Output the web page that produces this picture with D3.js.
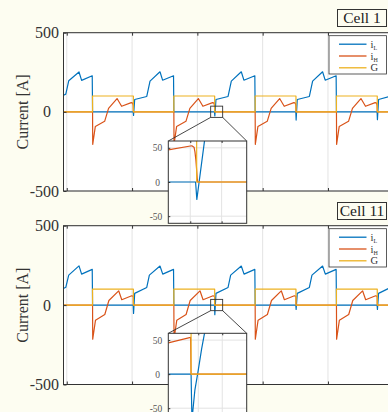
<!DOCTYPE html>
<html><head><meta charset="utf-8">
<script src="https://cdn.jsdelivr.net/npm/d3@7"></script>
<style>
html,body{margin:0;padding:0;background:#fdfdf1;overflow:hidden;}
svg{display:block;}
text{font-family:"Liberation Serif","Times New Roman",serif;}
</style></head><body>
<svg id="c" width="388" height="412"></svg>
<script>
// ---------- data (time in µs, current in A) ----------
const xDomain=[-2,198];
const xTicks=[0,40,80,120,160];
const yDomain=[-500,500];
const yTicks=[-500,0,500];
const seriesNames=["i_L","i_H","G"];
const panelLabels=["Cell 1","Cell 11"];
const yLabel="Current [A]";

// Cell 1
const iL_cell1=[[-2,105],[-0.6,112],[1.2,196],[7.5,252],[9.1,199],[15.6,228],[15.8,0],
 [40.7,0],[40.9,-22],[41.6,78],[49.0,97],[51.0,194],[57.1,253],[58.7,200],[65.4,228],[65.6,0],
 [90.5,0],[90.7,-26],[91.4,78],[98.8,97],[100.8,194],[106.9,253],[108.5,200],[115.2,228],[115.4,0],
 [140.3,0],[140.5,-52],[141.2,78],[148.6,97],[150.6,194],[156.7,253],[158.3,200],[165.0,228],[165.2,0],
 [190.1,0],[190.3,-50],[191.0,78],[198.4,99]];
const iH_cell1=[[-2,0],[15.8,0],[15.9,-205],[17.5,-92],[23.2,-60],[25.6,22],[30.8,84],[33.6,35],[39.5,58],[40.4,55],[40.7,40],[40.8,0],
 [65.6,0],[65.7,-205],[67.3,-92],[73.0,-60],[75.4,22],[80.6,84],[83.4,35],[89.3,58],[90.2,55],[90.5,40],[90.6,0],
 [115.4,0],[115.5,-205],[117.1,-92],[122.8,-60],[125.2,22],[130.4,84],[133.2,35],[139.1,58],[140.0,55],[140.3,40],[140.4,0],
 [165.2,0],[165.3,-205],[166.9,-92],[172.6,-60],[175.0,22],[180.2,84],[183.0,35],[188.9,58],[189.8,55],[190.1,40],[190.2,0],[198,0]];
const G_cell1=[[-2,0],[15.8,0],[15.8,100],[40.8,100],[40.8,0],[65.6,0],[65.6,100],[90.6,100],[90.6,0],
 [115.4,0],[115.4,100],[140.4,100],[140.4,0],[165.2,0],[165.2,100],[190.2,100],[190.2,0],[198,0]];

// Cell 11
const iL_cell11=[[-2,105],[-0.6,112],[1.2,189],[7.5,247],[9.1,195],[15.6,225],[15.8,0],
 [40.7,0],[40.9,-52],[41.6,74],[49.0,111],[50.6,189],[57.1,246],[58.8,195],[65.4,225],[65.6,0],
 [90.5,0],[90.7,-60],[91.4,74],[98.8,111],[100.4,189],[106.9,246],[108.6,195],[115.2,225],[115.4,0],
 [140.3,0],[140.5,-27],[141.2,74],[148.6,111],[150.2,189],[156.7,246],[158.4,195],[165.0,225],[165.2,0],
 [190.1,0],[190.3,-27],[191.0,74],[198.4,111]];
const iH_cell11=[[-2,0],[15.8,0],[15.9,-215],[17.6,-95],[23.3,-59],[25.8,29],[31.8,90],[33.7,34],[39.8,59],[40.75,55],[40.8,0],
 [65.6,0],[65.7,-215],[67.4,-95],[73.1,-59],[75.6,29],[81.6,90],[83.5,34],[89.6,59],[90.55,54],[90.6,0],
 [115.4,0],[115.5,-215],[117.2,-95],[122.9,-59],[125.4,29],[131.4,90],[133.3,34],[139.4,59],[140.35,55],[140.4,0],
 [165.2,0],[165.3,-215],[167.0,-95],[172.7,-59],[175.2,29],[181.2,90],[183.1,34],[189.2,59],[190.15,55],[190.2,0],[198,0]];
const G_cell11=[[-2,0],[15.8,0],[15.8,100],[40.8,100],[40.8,0],[65.6,0],[65.6,100],[90.6,100],[90.6,0],
 [115.4,0],[115.4,100],[140.4,100],[140.4,0],[165.2,0],[165.2,100],[190.2,100],[190.2,0],[198,0]];

// zoomed region marked in the main axes
const zoomT=[88.15,95.5];
const zoomV=[-35,36];
// insets
const insetYDomain=[-60,60];
const insetYTicks=[-50,0,50];
const inset1Domain=[89.7,92.2], inset1Ticks=[90.4,91.4];
const inset2Domain=[89.65,92.92], inset2Ticks=[90.9,91.9];
const ins1_iL=[[89.7,0],[90.57,0],[90.61,-25.5],[90.86,62],[91.3,78]];
const ins1_iH=[[89.7,47],[90.45,53],[90.52,51],[90.55,44],[90.58,32],[90.60,20],[90.62,7],[90.635,0],[92.2,0]];
const ins1_G=[[89.7,100],[90.605,100],[90.605,0],[92.2,0]];
const ins2_iL=[[89.65,0],[90.6,0],[90.64,-75],[90.67,-55],[90.76,-23],[90.9,6],[91.04,37],[91.15,58],[91.3,78]];
const ins2_iH=[[89.65,46],[90.58,54],[90.6,0],[92.92,0]];
const ins2_G=[[89.65,100],[90.6,100],[90.6,0],[92.92,0]];

// ---------- drawing ----------
const colors=["#0072BD","#D95319","#EDB120"];
const axisColor="#333";
const gridColor="#e3e3e3";
const svg=d3.select("#c");
const defs=svg.append("defs");
const X0=63.5, X1=390;
const x=d3.scaleLinear().domain(xDomain).range([X0,X1]);

const panels=[
 {top:32.7,bot:191,data:[iL_cell1,iH_cell1,G_cell1],label:panelLabels[0],
  inset:{domain:inset1Domain,ticks:inset1Ticks,data:[ins1_iL,ins1_iH,ins1_G],yTop:141,yBot:223,boxBot:223.3}},
 {top:225.7,bot:384.5,data:[iL_cell11,iH_cell11,G_cell11],label:panelLabels[1],
  inset:{domain:inset2Domain,ticks:inset2Ticks,data:[ins2_iL,ins2_iH,ins2_G],yTop:333.3,yBot:415,boxBot:416}}
];

panels.forEach((p,i)=>{
  const y=d3.scaleLinear().domain(yDomain).range([p.bot,p.top]);
  p.y=y;
  const g=svg.append("g");
  g.append("rect").attr("x",X0).attr("y",p.top).attr("width",X1-X0).attr("height",p.bot-p.top).attr("fill","#fff");
  g.selectAll(null).data(xTicks).join("line")
    .attr("x1",d=>x(d)).attr("x2",d=>x(d)).attr("y1",p.top).attr("y2",p.bot)
    .attr("stroke",gridColor).attr("stroke-width",1);
  g.selectAll(null).data(yTicks).join("line")
    .attr("x1",X0).attr("x2",X1).attr("y1",d=>y(d)).attr("y2",d=>y(d))
    .attr("stroke",gridColor).attr("stroke-width",1);
  const cid="clipm"+i;
  defs.append("clipPath").attr("id",cid).append("rect")
    .attr("x",X0).attr("y",p.top).attr("width",X1-X0).attr("height",p.bot-p.top);
  const lg=g.append("g").attr("clip-path",`url(#${cid})`);
  const line=d3.line().x(d=>x(d[0])).y(d=>y(d[1]));
  p.data.forEach((d,k)=>{
    lg.append("path").datum(d).attr("d",line).attr("fill","none")
      .attr("stroke",colors[k]).attr("stroke-width",1.2).attr("stroke-linejoin","round");
  });
  // border
  g.append("rect").attr("x",X0).attr("y",p.top).attr("width",X1-X0).attr("height",p.bot-p.top)
    .attr("fill","none").attr("stroke",axisColor).attr("stroke-width",1);
  // ticks
  const ab=g.append("g").attr("transform",`translate(0,${p.bot})`)
    .call(d3.axisBottom(x).tickValues(xTicks).tickSize(-3).tickFormat(""));
  const at=g.append("g").attr("transform",`translate(0,${p.top})`)
    .call(d3.axisTop(x).tickValues(xTicks).tickSize(-3).tickFormat(""));
  const al=g.append("g").attr("transform",`translate(${X0},0)`)
    .call(d3.axisLeft(y).tickValues(yTicks).tickSize(-3).tickPadding(4.5).tickFormat(d=>String(d)));
  [ab,at,al].forEach(a=>{a.select(".domain").remove();a.selectAll(".tick line").attr("stroke",axisColor);});
  al.selectAll(".tick text").attr("font-size",16).attr("fill",axisColor)
    .attr("font-family","'Liberation Serif','Times New Roman',serif");
  let wPos=0;
  al.selectAll(".tick text").each(function(d){ if(d===yTicks[yTicks.length-1]) wPos=this.getComputedTextLength(); });
  al.selectAll(".tick text").filter(d=>d===0).attr("text-anchor","middle").attr("x",-(4.5+wPos/2));
  // y label
  g.append("text").attr("transform",`translate(28,${(p.top+p.bot)/2}) rotate(-90)`)
    .attr("text-anchor","middle").attr("font-size",16).attr("fill",axisColor).text(yLabel);
  // legend
  const lgx=329, lgy=p.top+3;
  const leg=g.append("g");
  leg.append("rect").attr("x",lgx).attr("y",lgy).attr("width",57.5).attr("height",38.3)
    .attr("fill","#fff").attr("stroke",axisColor).attr("stroke-width",0.8);
  seriesNames.forEach((n,k)=>{
    const yy=lgy+8.5+k*11.8;
    leg.append("line").attr("x1",lgx+10).attr("x2",lgx+37.5).attr("y1",yy).attr("y2",yy)
      .attr("stroke",colors[k]).attr("stroke-width",1.3);
    const t=leg.append("text").attr("x",lgx+41.5).attr("y",yy+3.5).attr("font-size",10.5).attr("fill",axisColor);
    const parts=n.split("_");
    t.append("tspan").text(parts[0]);
    if(parts[1]) t.append("tspan").attr("font-size",6).attr("dy",2).text(parts[1]);
  });
  // cell label
  const cy=p.top-23.2;
  g.append("rect").attr("x",337.5).attr("y",cy).attr("width",49).attr("height",17)
    .attr("fill","none").attr("stroke",axisColor).attr("stroke-width",1);
  g.append("text").attr("x",362).attr("y",cy+13.3).attr("text-anchor","middle")
    .attr("font-size",15.5).attr("fill","#222").text(p.label);
});

// insets on top
panels.forEach((p,i)=>{
  const ins=p.inset, y=p.y;
  const g=svg.append("g");
  const IX0=168.3, IX1=246.7;
  const xi=d3.scaleLinear().domain(ins.domain).range([IX0,IX1]);
  const yi=d3.scaleLinear().domain(insetYDomain).range([ins.yBot,ins.yTop]);
  // zoom box + connectors
  const bx0=x(zoomT[0]), bx1=x(zoomT[1]), by0=y(zoomV[1]), by1=y(zoomV[0]);
  g.append("rect").attr("x",bx0).attr("y",by0).attr("width",bx1-bx0).attr("height",by1-by0)
    .attr("fill","none").attr("stroke",axisColor).attr("stroke-width",0.9);
  g.append("line").attr("x1",bx0).attr("y1",by1).attr("x2",IX0).attr("y2",ins.yTop).attr("stroke",axisColor).attr("stroke-width",0.9);
  g.append("line").attr("x1",bx1).attr("y1",by1).attr("x2",IX1).attr("y2",ins.yTop).attr("stroke",axisColor).attr("stroke-width",0.9);
  // inset bg
  g.append("rect").attr("x",IX0).attr("y",ins.yTop).attr("width",IX1-IX0).attr("height",ins.boxBot-ins.yTop).attr("fill","#fff");
  g.selectAll(null).data(ins.ticks).join("line")
    .attr("x1",d=>xi(d)).attr("x2",d=>xi(d)).attr("y1",ins.yTop).attr("y2",ins.boxBot)
    .attr("stroke",gridColor).attr("stroke-width",1);
  g.selectAll(null).data(insetYTicks).join("line")
    .attr("x1",IX0).attr("x2",IX1).attr("y1",d=>yi(d)).attr("y2",d=>yi(d))
    .attr("stroke",gridColor).attr("stroke-width",1);
  const cid="clipi"+i;
  defs.append("clipPath").attr("id",cid).append("rect")
    .attr("x",IX0).attr("y",ins.yTop).attr("width",IX1-IX0).attr("height",ins.boxBot-ins.yTop);
  const lg=g.append("g").attr("clip-path",`url(#${cid})`);
  const line=d3.line().x(d=>xi(d[0])).y(d=>yi(d[1]));
  ins.data.forEach((d,k)=>{
    lg.append("path").datum(d).attr("d",line).attr("fill","none")
      .attr("stroke",colors[k]).attr("stroke-width",1.2).attr("stroke-linejoin","round");
  });
  g.append("rect").attr("x",IX0).attr("y",ins.yTop).attr("width",IX1-IX0).attr("height",ins.boxBot-ins.yTop)
    .attr("fill","none").attr("stroke",axisColor).attr("stroke-width",1);
  const al=g.append("g").attr("transform",`translate(${IX0},0)`)
    .call(d3.axisLeft(yi).tickValues(insetYTicks).tickSize(-2).tickPadding(6).tickFormat(d=>String(d)));
  const ab=g.append("g").attr("transform",`translate(0,${ins.boxBot})`)
    .call(d3.axisBottom(xi).tickValues(ins.ticks).tickSize(-2).tickFormat(""));
  const at=g.append("g").attr("transform",`translate(0,${ins.yTop})`)
    .call(d3.axisTop(xi).tickValues(ins.ticks).tickSize(-2).tickFormat(""));
  [al,ab,at].forEach(a=>{a.select(".domain").remove();a.selectAll(".tick line").attr("stroke",axisColor);});
  al.selectAll(".tick text").attr("font-size",9.5).attr("fill","#555")
    .attr("font-family","'Liberation Serif','Times New Roman',serif");
  let wPos=0;
  al.selectAll(".tick text").each(function(d){ if(d===insetYTicks[insetYTicks.length-1]) wPos=this.getComputedTextLength(); });
  al.selectAll(".tick text").filter(d=>d===0).attr("text-anchor","middle").attr("x",-(6+wPos/2));
});
</script>
</body></html>
